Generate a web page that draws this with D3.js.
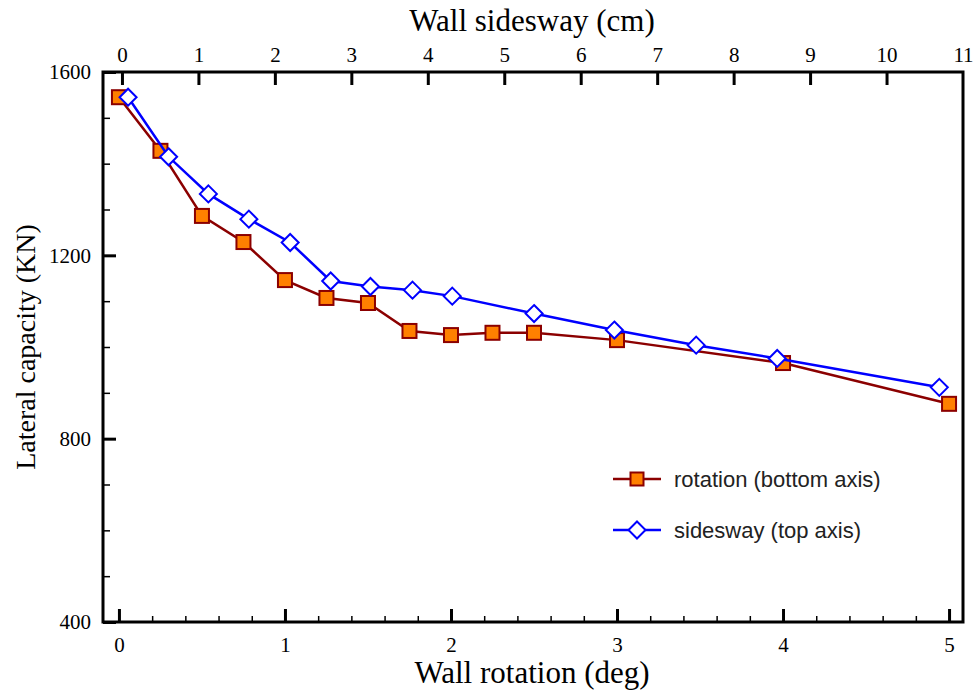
<!DOCTYPE html>
<html>
<head>
<meta charset="utf-8">
<script src="https://cdn.jsdelivr.net/npm/d3@7"></script>
<style>
  html, body { margin: 0; padding: 0; background: #fff; }
  svg { display: block; }
</style>
</head>
<body>
<svg id="chart" width="974" height="692"></svg>
<script>
// Wall rotation (deg) vs lateral capacity (kN) — bottom axis
const rotationDeg = [0, 0.25, 0.5, 0.75, 1.0, 1.25, 1.5, 1.75, 2.0, 2.25, 2.5, 3.0, 4.0, 5.0];
const rotationKN  = [1545, 1428, 1286, 1229, 1146, 1107, 1096, 1035, 1026, 1031, 1031, 1015, 965, 876];

// Wall sidesway (cm) vs lateral capacity (kN) — top axis
const sideswayCm = [0.08, 0.61, 1.13, 1.66, 2.20, 2.73, 3.25, 3.80, 4.32, 5.39, 6.44, 7.51, 8.57, 10.69];
const sideswayKN = [1545, 1415, 1334, 1279, 1228, 1144, 1132, 1124, 1111, 1073, 1037, 1004, 975, 912];

const bottomTicks = [0, 1, 2, 3, 4, 5];
const topTicks = [0, 1, 2, 3, 4, 5, 6, 7, 8, 9, 10, 11];
const yTicks = [400, 800, 1200, 1600];

const legendLabels = ["rotation (bottom axis)", "sidesway (top axis)"];

const svg = d3.select("#chart");
const L = 103, R = 963, T = 72, B = 622;

const xBottom = d3.scaleLinear().domain([-0.096, 5.084]).range([L, R]);
const xTop = d3.scaleLinear().domain([-0.248, 11]).range([L, R]);
const y = d3.scaleLinear().domain([400, 1600]).range([B, T]);

const serif = "'Liberation Serif', 'Times New Roman', serif";
const sans = "'Liberation Sans', Helvetica, Arial, sans-serif";

function styleAxis(g, major) {
  g.select(".domain").remove();
  g.selectAll(".tick line").attr("stroke", "#000").attr("stroke-width", major ? 3 : 1.5);
  g.selectAll(".tick text").attr("fill", "#000").style("font-family", serif).style("font-size", "21px");
}

// bottom axis: majors every 1 deg, minors every 0.2 deg
const bottomMinor = d3.range(0, 5.01, 0.2).filter(v => Math.abs(v - Math.round(v)) > 1e-6);
svg.append("g").attr("transform", `translate(0,${B})`)
  .call(d3.axisBottom(xBottom).tickValues(bottomMinor).tickSize(-6).tickFormat(""))
  .call(g => styleAxis(g, false));
svg.append("g").attr("transform", `translate(0,${B})`)
  .call(d3.axisBottom(xBottom).tickValues(bottomTicks).tickSize(-13).tickPadding(15).tickFormat(d3.format("d")))
  .call(g => styleAxis(g, true));

// top axis
svg.append("g").attr("transform", `translate(0,${T})`)
  .call(d3.axisTop(xTop).tickValues(topTicks.filter(v => v < 11)).tickSize(-13).tickPadding(10).tickFormat(d3.format("d")))
  .call(g => styleAxis(g, true));
svg.append("g").attr("transform", `translate(0,${T})`)
  .call(d3.axisTop(xTop).tickValues([11]).tickSize(0).tickPadding(10).tickFormat(d3.format("d")))
  .call(g => styleAxis(g, true));

// left axis: majors every 400, minors every 100
const yMinor = d3.range(500, 1600, 100).filter(v => v % 400 !== 0);
svg.append("g").attr("transform", `translate(${L},0)`)
  .call(d3.axisLeft(y).tickValues(yMinor).tickSize(-7).tickFormat(""))
  .call(g => styleAxis(g, false));
svg.append("g").attr("transform", `translate(${L},0)`)
  .call(d3.axisLeft(y).tickValues(yTicks).tickSize(-13).tickPadding(12).tickFormat(d3.format("d")))
  .call(g => styleAxis(g, true));

// frame
svg.append("rect").attr("x", L).attr("y", T).attr("width", R - L).attr("height", B - T)
  .attr("fill", "none").attr("stroke", "#000").attr("stroke-width", 3);

// axis titles
svg.append("text").attr("x", (L + R) / 2 - 1).attr("y", 31).attr("text-anchor", "middle")
  .style("font-family", serif).style("font-size", "31px").text("Wall sidesway (cm)");
svg.append("text").attr("x", (L + R) / 2 - 1).attr("y", 683).attr("text-anchor", "middle")
  .style("font-family", serif).style("font-size", "31px").text("Wall rotation (deg)");
svg.append("text").attr("transform", `translate(35,${(T + B) / 2}) rotate(-90)`).attr("text-anchor", "middle")
  .style("font-family", serif).style("font-size", "28px").text("Lateral capacity (KN)");

const rotColor = "#8b0000", rotFill = "#ff8000", sideColor = "#0000ff";
const sq = 14, dm = 8.5;
const diamondPath = `M0,${-dm}L${dm},0L0,${dm}L${-dm},0Z`;

const rotData = rotationDeg.map((d, i) => ({ x: d, v: rotationKN[i] }));
const sideData = sideswayCm.map((d, i) => ({ x: d, v: sideswayKN[i] }));

// rotation series
svg.append("path").datum(rotData)
  .attr("d", d3.line().x(d => xBottom(d.x)).y(d => y(d.v)))
  .attr("fill", "none").attr("stroke", rotColor).attr("stroke-width", 2.5);
svg.append("g").selectAll("rect").data(rotData).join("rect")
  .attr("x", d => xBottom(d.x) - sq / 2).attr("y", d => y(d.v) - sq / 2)
  .attr("width", sq).attr("height", sq)
  .attr("fill", rotFill).attr("stroke", rotColor).attr("stroke-width", 2);

// sidesway series
svg.append("path").datum(sideData)
  .attr("d", d3.line().x(d => xTop(d.x)).y(d => y(d.v)))
  .attr("fill", "none").attr("stroke", sideColor).attr("stroke-width", 2.5);
svg.append("g").selectAll("path").data(sideData).join("path")
  .attr("transform", d => `translate(${xTop(d.x)},${y(d.v)})`)
  .attr("d", diamondPath)
  .attr("fill", "#fff").attr("stroke", sideColor).attr("stroke-width", 2);

// legend
const lg = svg.append("g");
const legendRows = [
  { label: legendLabels[0], y: 479, kind: "square" },
  { label: legendLabels[1], y: 530, kind: "diamond" }
];
legendRows.forEach(r => {
  const color = r.kind === "square" ? rotColor : sideColor;
  lg.append("line").attr("x1", 613).attr("x2", 661).attr("y1", r.y).attr("y2", r.y)
    .attr("stroke", color).attr("stroke-width", 2.5);
  if (r.kind === "square") {
    lg.append("rect").attr("x", 637 - 6.5).attr("y", r.y - 6.5).attr("width", 13).attr("height", 13)
      .attr("fill", rotFill).attr("stroke", rotColor).attr("stroke-width", 2);
  } else {
    lg.append("path").attr("transform", `translate(637,${r.y})`).attr("d", diamondPath)
      .attr("fill", "#fff").attr("stroke", sideColor).attr("stroke-width", 2);
  }
  lg.append("text").attr("x", 674).attr("y", r.y).attr("dy", "0.35em")
    .style("font-family", sans).style("font-size", "22px").attr("fill", "#222").text(r.label);
});
</script>
</body>
</html>
